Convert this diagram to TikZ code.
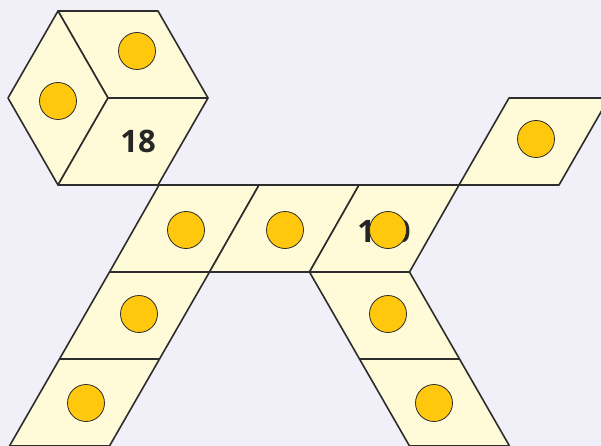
\documentclass[tikz,border=0pt]{standalone}
\usepackage{fontspec}
\setmainfont{Open Sans}
\definecolor{bgc}{RGB}{241,239,247}
\definecolor{facec}{RGB}{255,251,216}
\definecolor{dotc}{RGB}{255,200,12}
\definecolor{edgec}{RGB}{45,45,45}
\begin{document}
\begin{tikzpicture}[x=1pt,y=-1pt,
  face/.style={fill=facec,draw=edgec,line width=1.6pt,line join=round},
  dot/.style={circle,fill=dotc,draw=edgec,line width=0.8pt,minimum size=37pt,inner sep=0pt},
  num/.style={font=\fontsize{31}{31}\selectfont\bfseries,text=black!85}]
\useasboundingbox (0,0) rectangle (601,446);
\clip (0,0) rectangle (601,446);
\fill[bgc] (0,0) rectangle (601,446);
% hexagon (cube corner)
\coordinate (hc) at (108,98);
\coordinate (hr) at (208,98);
\coordinate (htr) at (158,11);
\coordinate (htl) at (58,11);
\coordinate (hl) at (8,98);
\coordinate (hbl) at (58,185);
\coordinate (hbr) at (158,185);
\draw[face] (hc) -- (hr) -- (htr) -- (htl) -- cycle;
\draw[face] (hc) -- (htl) -- (hl) -- (hbl) -- cycle;
\draw[face] (hc) -- (hbl) -- (hbr) -- (hr) -- cycle;
% horizontal strip
\foreach \i in {0,1,2}{
  \draw[face] ({159+100*\i},185) -- ({259+100*\i},185) -- ({209.5+100*\i},272) -- ({109.5+100*\i},272) -- cycle;
}
% top right face
\draw[face] (459,185) -- (559,185) -- (609,98) -- (509,98) -- cycle;
% left leg
\draw[face] (109.5,272) -- (209.5,272) -- (159.5,359) -- (59.5,359) -- cycle;
\draw[face] (59.5,359) -- (159.5,359) -- (109.5,446) -- (9.5,446) -- cycle;
% right leg
\draw[face] (309.5,272) -- (409.5,272) -- (459.5,359) -- (359.5,359) -- cycle;
\draw[face] (359.5,359) -- (459.5,359) -- (509.5,446) -- (409.5,446) -- cycle;
% numbers
\node[num] (n18) at (138,141) {18};
\node[num] (n100) at (384,231) {100};
% dots
\node[dot] (d1) at (137,51) {};
\node[dot] (d2) at (58,101) {};
\node[dot] (d3) at (186,230) {};
\node[dot] (d4) at (285,230) {};
\node[dot] (d5) at (388,230) {};
\node[dot] (d6) at (536,139) {};
\node[dot] (d7) at (139,314) {};
\node[dot] (d8) at (86,403) {};
\node[dot] (d9) at (388,314) {};
\node[dot] (d10) at (434,403) {};
\end{tikzpicture}
\end{document}
